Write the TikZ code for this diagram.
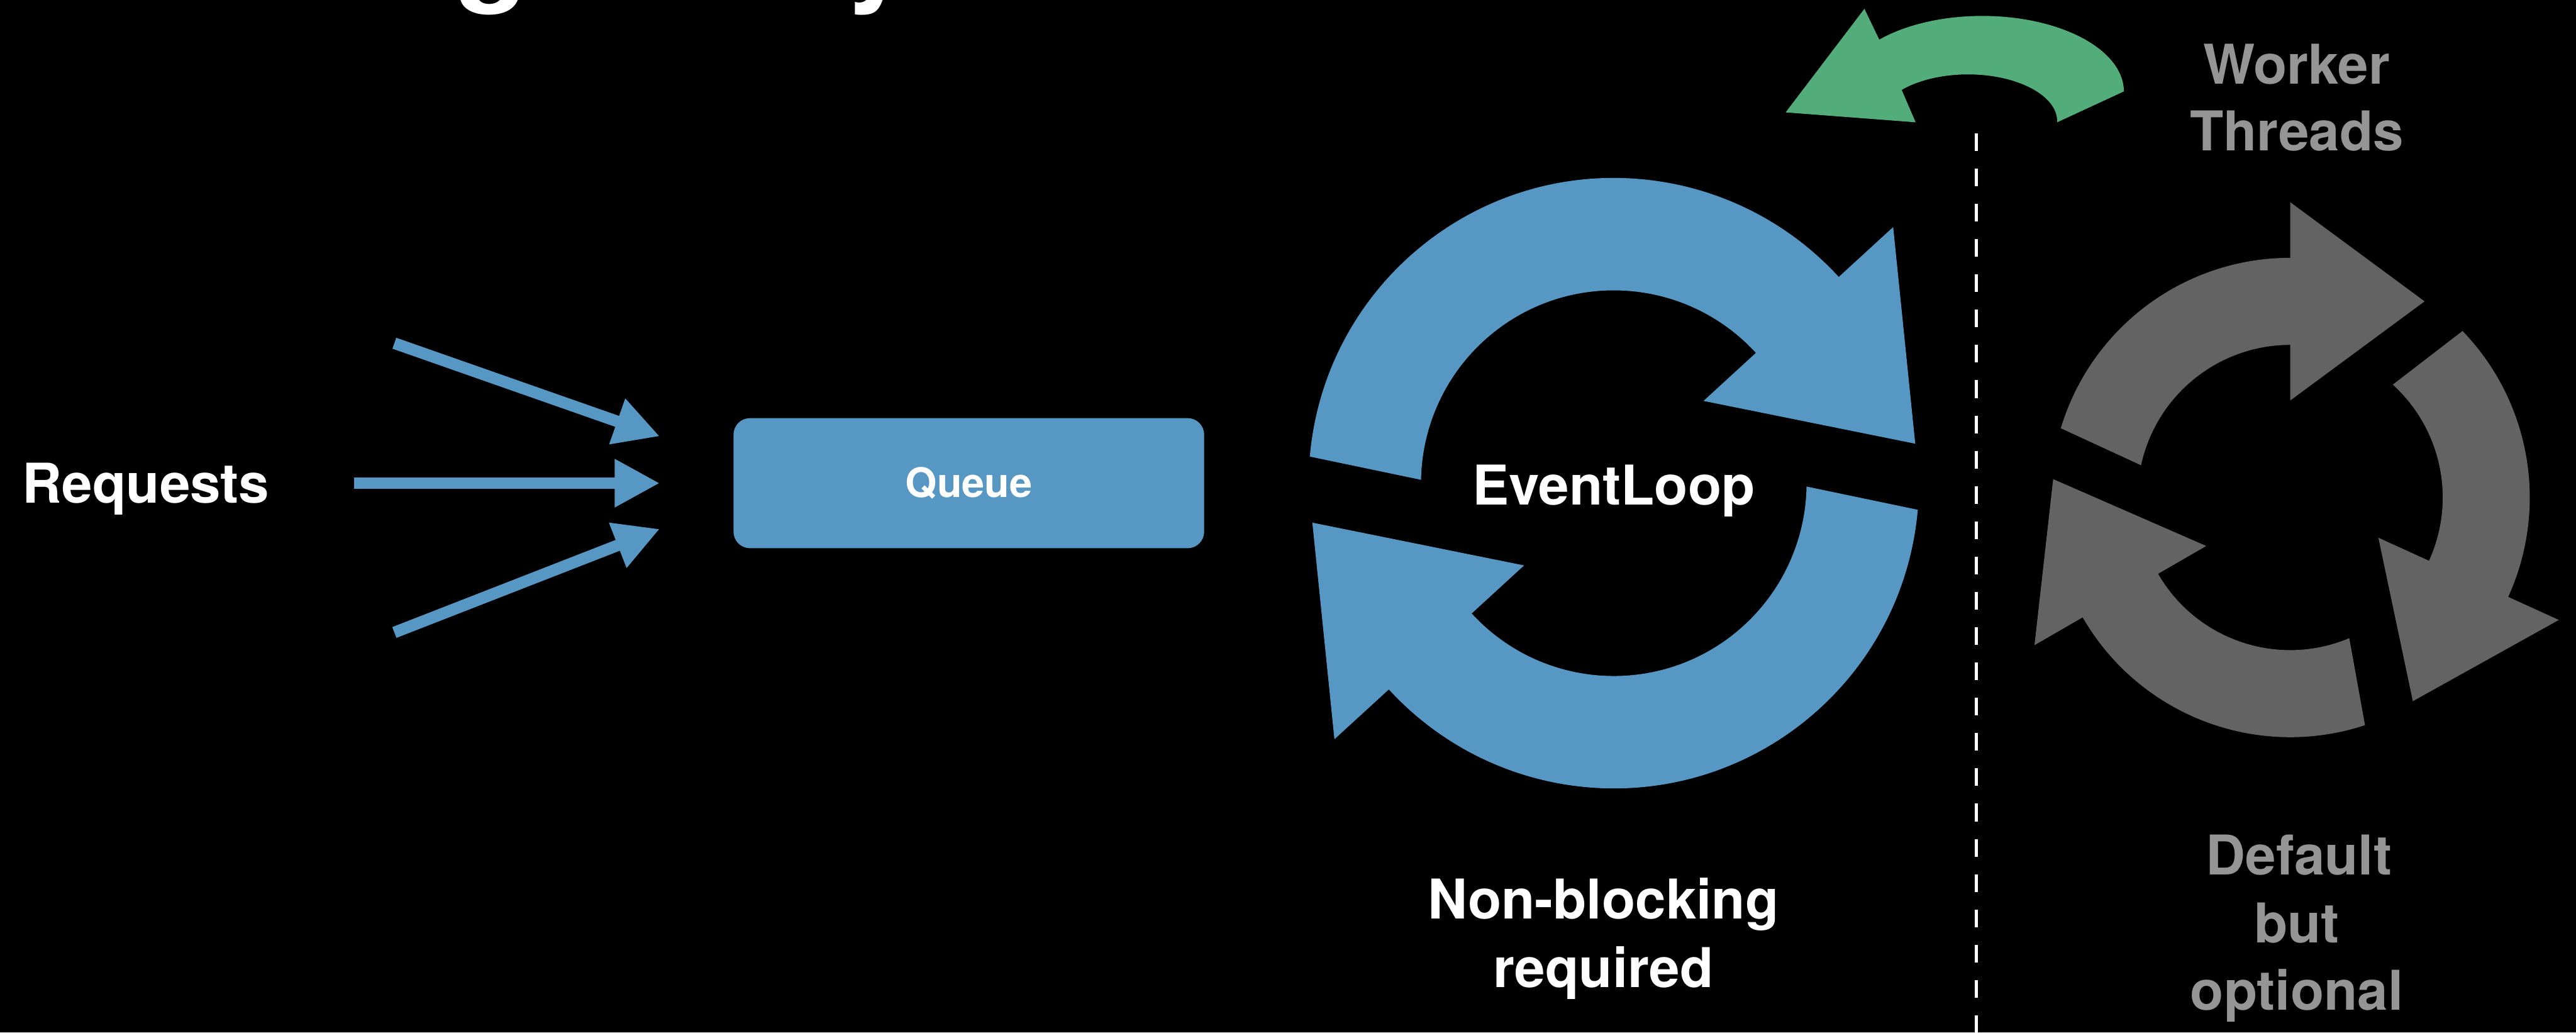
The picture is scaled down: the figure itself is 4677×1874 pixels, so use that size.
\documentclass[tikz,border=0pt]{standalone}
\usepackage{fontspec}
\setmainfont{TeX Gyre Heros}
\usetikzlibrary{arrows.meta}
\definecolor{qblue}{HTML}{5698C3}
\definecolor{ggreen}{HTML}{52AD7B}
\definecolor{dgray}{HTML}{636363}
\definecolor{lgray}{HTML}{959595}
% one half of the event-loop ring (#1 = rotation offset in degrees)
\newcommand{\loopseg}[1]{%
  \fill[qblue] ({175+#1}:554) arc[start angle={175+#1}, end angle={42.5+#1}, radius=554]
    -- ({42.5+#1}:688) -- ({7.46+#1}:552) -- ({42.5+#1}:221) -- ({42.5+#1}:350)
    arc[start angle={42.5+#1}, end angle={179+#1}, radius=350] -- cycle;}
% one arrow of the worker-thread wheel: #1 head base angle, #2 tail outer, #3 tail inner
\newcommand{\wheelseg}[3]{%
  \fill[dgray] (#2:435) arc[start angle=#2, end angle=#1, radius=435]
    -- (#1:536) -- ({#1-34.43}:431.6) -- (#1:176) -- (#1:277)
    arc[start angle=#1, end angle=#3, radius=277] -- cycle;}
\begin{document}
\begin{tikzpicture}[x=0.01cm, y=0.01cm,
  lbl/.style={text=white, font=\fontsize{28.3pt}{34pt}\selectfont\bfseries, inner sep=0pt, anchor=base},
  grlbl/.style={lbl, text=lgray},
  reqarrow/.style={draw=qblue, line width=0.21cm, -{Triangle[length=0.82cm, width=0.82cm]}},
  qbox/.style={fill=qblue, rounded corners=0.3cm, minimum width=8.54cm, minimum height=2.36cm,
    inner sep=0pt, text=white, font=\fontsize{21pt}{25pt}\selectfont\bfseries},
  sepline/.style={draw=white, line width=0.05cm, dash pattern=on 0.32cm off 0.32cm}]
\useasboundingbox (0,0) rectangle (4677,1874);
\fill[black] (0,0) rectangle (4677,1874);
% title (only its descenders reach into the picture)
\begin{scope}
  \clip (0,0) rectangle (4677,1874);
  \node[lbl, anchor=base west, font=\fontsize{61.7pt}{70pt}\selectfont\bfseries] (title) at (30,1894) {Handling Heavy};
\end{scope}
% requests
\node[lbl] (req) at (265,961) {Requests};
\coordinate (r1s) at (716,1251); \coordinate (r1e) at (1198,1082);
\coordinate (r2s) at (643,997);  \coordinate (r2e) at (1198,997);
\coordinate (r3s) at (716,726);  \coordinate (r3e) at (1198,914);
\draw[reqarrow] (r1s) -- (r1e);
\draw[reqarrow] (r2s) -- (r2e);
\draw[reqarrow] (r3s) -- (r3e);
% queue
\node[qbox] (queue) at (1759,997) {Queue};
% event loop
\begin{scope}[shift={(2930,997)}]
  \loopseg{0}
  \loopseg{180}
\end{scope}
\node[lbl] (el) at (2930,958) {EventLoop};
\node[lbl] (nb1) at (2911,206) {Non-blocking};
\node[lbl] (nb2) at (2911,82) {required};
% separator
\coordinate (dtop) at (3588,1632);
\coordinate (dbot) at (3588,0);
\draw[sepline] (dtop) -- (dbot);
% green hand-off arrow
\fill[ggreen] (3242,1670) -- (3385,1858) -- (3412,1802)
  arc[start angle=136.7, end angle=0, x radius=257, y radius=137]
  -- (3735,1652) arc[start angle=-1.3, end angle=138, x radius=162, y radius=85]
  -- (3478,1652) -- cycle;
% worker threads
\begin{scope}[shift={(4158,971)}]
  \wheelseg{90}{163.2}{167.8}
  \wheelseg{-24.5}{44}{47.7}
  \wheelseg{210}{288.2}{292.8}
\end{scope}
\node[grlbl] (wt1) at (4170,1722) {Worker};
\node[grlbl] (wt2) at (4170,1600) {Threads};
\node[grlbl] (dbo1) at (4174,286) {Default};
\node[grlbl] (dbo2) at (4170,163) {but};
\node[grlbl] (dbo3) at (4170,41) {optional};
\end{tikzpicture}
\end{document}
